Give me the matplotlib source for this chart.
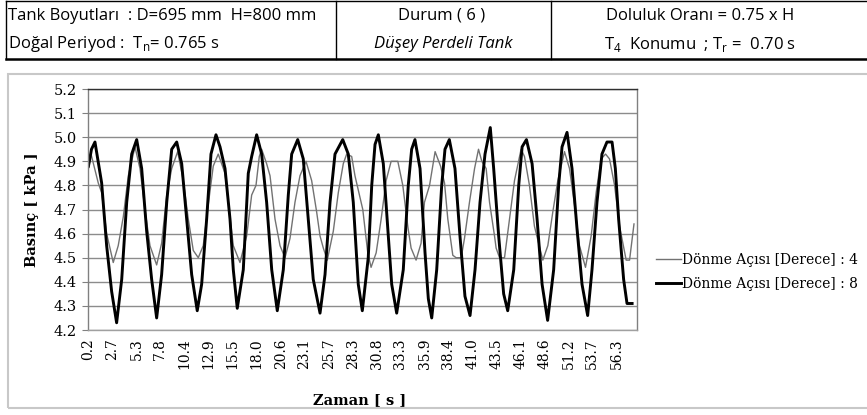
import matplotlib.pyplot as plt
from matplotlib.lines import Line2D
from matplotlib.patches import Rectangle
import numpy as np

# time [s] and pressure [kPa], rotation angle 4 deg (thin line)
t_4 = [0.2, 0.47, 1.24, 1.60, 2.13, 2.83, 3.36, 3.90, 4.43, 5.14, 5.67, 6.20, 6.73, 7.44,
       7.97, 8.51, 9.04, 9.67, 10.27, 10.80, 11.33, 11.86, 12.39, 12.92, 13.45, 13.98,
       14.70, 15.05, 15.58, 16.29, 17.00, 17.53, 17.99, 18.34, 18.59, 19.12, 19.48, 20.01,
       20.54, 21.07, 21.60, 22.13, 22.66, 23.30, 23.90, 24.43, 24.79, 25.14, 25.56, 26.20,
       26.73, 27.26, 27.62, 28.15, 28.50, 29.33, 29.86, 30.21, 30.75, 31.28, 31.81, 32.34,
       33.05, 33.58, 34.11, 34.46, 34.99, 35.52, 35.88, 36.42, 37.01, 37.59, 38.01, 38.36,
       38.89, 39.24, 39.78, 40.13, 40.66, 41.20, 41.62, 41.97, 42.43, 42.79, 43.32, 43.49,
       43.85, 44.38, 44.91, 45.44, 46.14, 46.50, 47.03, 47.56, 48.45, 48.98, 49.51, 50.04,
       50.75, 51.28, 51.81, 52.34, 52.98, 53.58, 54.11, 54.64, 55.11, 55.53, 56.07, 56.60,
       57.30, 57.66, 58.13]
p_4 = [4.87, 4.93, 4.81, 4.77, 4.60, 4.48, 4.55, 4.67, 4.84, 4.96, 4.87, 4.70, 4.55, 4.47,
       4.56, 4.76, 4.87, 4.94, 4.82, 4.66, 4.53, 4.50, 4.55, 4.72, 4.88, 4.93,
       4.85, 4.73, 4.55, 4.48, 4.59, 4.76, 4.80, 4.92, 4.95, 4.89, 4.84, 4.66,
       4.55, 4.50, 4.58, 4.73, 4.84, 4.90, 4.82, 4.69, 4.59, 4.54, 4.49, 4.61,
       4.77, 4.89, 4.93, 4.92, 4.84, 4.70, 4.52, 4.46, 4.52, 4.66, 4.82, 4.90,
       4.90, 4.80, 4.63, 4.54, 4.49, 4.56, 4.73, 4.80, 4.94, 4.88, 4.81, 4.66,
       4.51, 4.50, 4.50, 4.58, 4.73, 4.87, 4.95, 4.90, 4.87, 4.73, 4.59, 4.54,
       4.50, 4.50, 4.66, 4.82, 4.95, 4.92, 4.80, 4.63, 4.49, 4.55, 4.69, 4.82,
       4.94, 4.87, 4.72, 4.55, 4.46, 4.59, 4.77, 4.91, 4.93, 4.91, 4.80, 4.63,
       4.49, 4.49, 4.64]

# rotation angle 8 deg (bold line)
t_8 = [0.2, 0.52, 0.89, 1.60, 2.13, 2.66, 3.19, 3.73, 4.26, 4.79, 5.32, 5.85, 6.38, 6.91,
       7.44, 7.97, 8.51, 9.04, 9.57, 10.10, 10.63, 11.16, 11.75, 12.22, 12.75, 13.21, 13.74,
       14.17, 14.70, 15.23, 15.58, 16.00, 16.64, 17.17, 17.53, 18.06, 18.59, 19.12, 19.66,
       20.25, 20.89, 21.42, 21.78, 22.42, 23.01, 23.54, 24.07, 24.79, 25.32, 25.85, 26.38,
       27.20, 27.79, 28.32, 28.85, 29.28, 29.91, 30.28, 30.63, 30.98, 31.51, 32.04, 32.40,
       32.93, 33.63, 34.16, 34.52, 34.87, 35.41, 35.94, 36.29, 36.65, 37.18, 37.71, 38.06,
       38.52, 39.12, 39.65, 40.18, 40.72, 41.25, 41.78, 42.31, 42.87, 43.23, 43.76, 44.29,
       44.72, 45.36, 45.89, 46.25, 46.71, 47.31, 47.84, 48.37, 48.96, 49.60, 50.13, 50.49,
       51.02, 51.55, 52.08, 52.61, 53.21, 53.67, 54.20, 54.73, 55.26, 55.80, 56.15, 56.50,
       57.03, 57.39, 57.93]
p_8 = [4.88, 4.95, 4.98, 4.81, 4.55, 4.36, 4.23, 4.41, 4.73, 4.93, 4.99, 4.87, 4.61, 4.41,
       4.25, 4.43, 4.73, 4.95, 4.98, 4.89, 4.66, 4.43, 4.28, 4.39, 4.66, 4.93, 5.01,
       4.96, 4.87, 4.66, 4.45, 4.29, 4.45, 4.85, 4.92, 5.01, 4.93, 4.73, 4.45,
       4.28, 4.45, 4.76, 4.93, 4.99, 4.91, 4.66, 4.41, 4.27, 4.43, 4.73, 4.93,
       4.99, 4.93, 4.73, 4.39, 4.28, 4.50, 4.80, 4.97, 5.01, 4.89, 4.59, 4.39,
       4.27, 4.45, 4.80, 4.95, 4.99, 4.87, 4.52, 4.33, 4.25, 4.45, 4.80, 4.95,
       4.99, 4.87, 4.59, 4.34, 4.26, 4.45, 4.73, 4.93, 5.04, 4.87, 4.59, 4.35,
       4.28, 4.45, 4.80, 4.96, 4.99, 4.89, 4.66, 4.39, 4.24, 4.45, 4.80, 4.96,
       5.02, 4.87, 4.62, 4.39, 4.26, 4.45, 4.73, 4.93, 4.98, 4.98, 4.87, 4.66,
       4.41, 4.31, 4.31]

x_ticks = [0.2, 2.7, 5.3, 7.8, 10.4, 12.9, 15.5, 18.0, 20.6, 23.1, 25.7, 28.3, 30.8,
           33.3, 35.9, 38.4, 41.0, 43.5, 46.1, 48.6, 51.2, 53.7, 56.3]
y_ticks = [4.2, 4.3, 4.4, 4.5, 4.6, 4.7, 4.8, 4.9, 5.0, 5.1, 5.2]

labels = ['Dönme Açısı [Derece] : 4', 'Dönme Açısı [Derece] : 8']

plt.rcParams['font.family'] = 'DejaVu Serif'
W, H = 867, 415
fig = plt.figure(figsize=(W / 100, H / 100), dpi=100)

def fx(px):
    return px / W

def fy(py):
    return 1 - py / H

# header table
hdr = dict(family='Open Sans', fontsize=12, color='black', va='center')
fig.add_artist(Line2D([fx(6), 1], [fy(1), fy(1)], color='black', lw=1))
fig.add_artist(Line2D([fx(6), 1], [fy(59.5), fy(59.5)], color='black', lw=1.8))
for xv in [6, 336, 551]:
    fig.add_artist(Line2D([fx(xv), fx(xv)], [fy(1), fy(59.5)], color='black', lw=1))
fig.text(fx(8), fy(16), 'Tank Boyutları  : D=695 mm  H=800 mm', ha='left', **hdr)
fig.text(fx(8), fy(44), r'Doğal Periyod :  T$_\mathregular{n}$= 0.765 s', ha='left', **hdr)
fig.text(fx(442), fy(16), 'Durum ( 6 )', ha='center', **hdr)
fig.text(fx(443), fy(44), 'Düşey Perdeli Tank', ha='center', style='italic', **hdr)
fig.text(fx(700), fy(16), 'Doluluk Oranı = 0.75 x H', ha='center', **hdr)
fig.text(fx(700), fy(44), r'T$_\mathregular{4}$  Konumu  ; T$_\mathregular{r}$ =  0.70 s',
         ha='center', **hdr)

# chart area frame
fig.add_artist(Rectangle((fx(8), fy(408)), 1.2, fy(74) - fy(408), fill=False,
                         edgecolor='#c8c8c8', lw=1.5))

ax = fig.add_axes([fx(88), fy(330), fx(637) - fx(88), fy(89) - fy(330)])
ax.plot(t_4, p_4, color='#727272', lw=1.0, label=labels[0], solid_joinstyle='round')
ax.plot(t_8, p_8, color='black', lw=2.1, label=labels[1], solid_joinstyle='round')

ax.set_xlim(0.15, 58.45)
ax.set_ylim(4.2, 5.2)
ax.set_xticks(x_ticks)
ax.set_xticklabels([f'{v:.1f}' for v in x_ticks], rotation=90, fontsize=10)
ax.set_yticks(y_ticks)
ax.set_yticklabels([f'{v:.1f}' for v in y_ticks], fontsize=10.5)
ax.tick_params(axis='x', length=0, pad=6)
ax.tick_params(axis='y', length=4, color='#808080', pad=4)
ax.grid(axis='y', color='#8c8c8c', lw=1)
ax.set_axisbelow(True)
for side, col in [('top', '#303030'), ('right', '#808080'), ('left', '#808080'),
                  ('bottom', '#a0a0a0')]:
    ax.spines[side].set_color(col)
    ax.spines[side].set_linewidth(1)

fig.text(fx(32), fy(210), 'Basınç [ kPa ]', rotation=90, ha='center', va='center',
         fontsize=10.5, fontweight='bold')
fig.text(fx(360), fy(400), 'Zaman [ s ]', ha='center', va='center',
         fontsize=10.5, fontweight='bold')

fig.legend(loc='center left', bbox_to_anchor=(fx(650), fy(272)), frameon=False,
           fontsize=10, handlelength=1.8, handletextpad=0.1, labelspacing=0.75,
           borderaxespad=0)

fig.savefig('out.png', dpi=100)
